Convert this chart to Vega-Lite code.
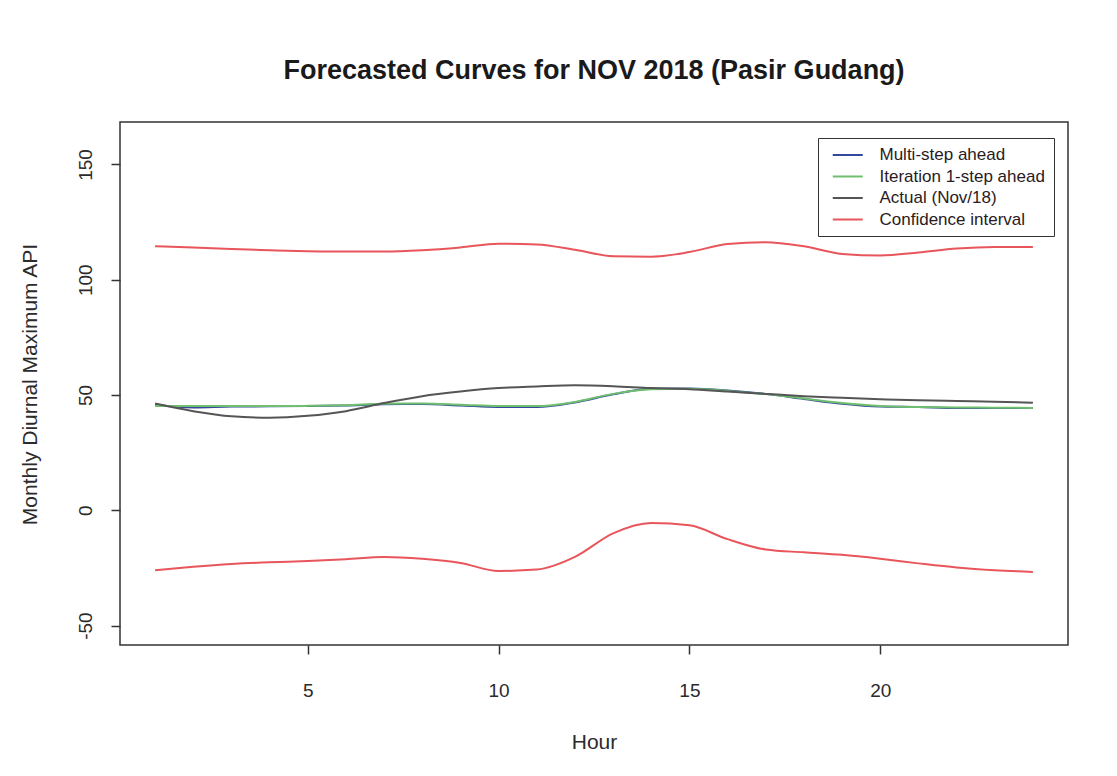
{
  "$schema": "https://vega.github.io/schema/vega-lite/v6.json",
  "width": 948,
  "height": 523,
  "autosize": {"type": "none"},
  "padding": {"left": 120, "top": 122, "right": 49, "bottom": 131},
  "background": "white",
  "title": {
    "text": "Forecasted Curves for NOV 2018 (Pasir Gudang)",
    "font": "Liberation Sans",
    "fontSize": 27,
    "fontWeight": "bold",
    "color": "#1a1a1a",
    "anchor": "middle",
    "frame": "group",
    "baseline": "alphabetic",
    "offset": 16
  },
  "data": {
    "values": [
      {"h":1,"v":45.8,"s":"Multi-step ahead","g":"m"},{"h":2,"v":44.6,"s":"Multi-step ahead","g":"m"},{"h":3,"v":45.0,"s":"Multi-step ahead","g":"m"},{"h":4,"v":45.1,"s":"Multi-step ahead","g":"m"},{"h":5,"v":45.2,"s":"Multi-step ahead","g":"m"},{"h":6,"v":45.5,"s":"Multi-step ahead","g":"m"},{"h":7,"v":46.0,"s":"Multi-step ahead","g":"m"},{"h":8,"v":46.1,"s":"Multi-step ahead","g":"m"},{"h":9,"v":45.5,"s":"Multi-step ahead","g":"m"},{"h":10,"v":44.8,"s":"Multi-step ahead","g":"m"},{"h":11,"v":44.8,"s":"Multi-step ahead","g":"m"},{"h":12,"v":46.8,"s":"Multi-step ahead","g":"m"},{"h":13,"v":50.3,"s":"Multi-step ahead","g":"m"},{"h":14,"v":52.7,"s":"Multi-step ahead","g":"m"},{"h":15,"v":52.8,"s":"Multi-step ahead","g":"m"},{"h":16,"v":52.0,"s":"Multi-step ahead","g":"m"},{"h":17,"v":50.5,"s":"Multi-step ahead","g":"m"},{"h":18,"v":48.3,"s":"Multi-step ahead","g":"m"},{"h":19,"v":46.2,"s":"Multi-step ahead","g":"m"},{"h":20,"v":45.0,"s":"Multi-step ahead","g":"m"},{"h":21,"v":44.8,"s":"Multi-step ahead","g":"m"},{"h":22,"v":44.4,"s":"Multi-step ahead","g":"m"},{"h":23,"v":44.4,"s":"Multi-step ahead","g":"m"},{"h":24,"v":44.4,"s":"Multi-step ahead","g":"m"},

      {"h":1,"v":45.2,"s":"Iteration 1-step ahead","g":"i"},{"h":2,"v":45.2,"s":"Iteration 1-step ahead","g":"i"},{"h":3,"v":45.2,"s":"Iteration 1-step ahead","g":"i"},{"h":4,"v":45.2,"s":"Iteration 1-step ahead","g":"i"},{"h":5,"v":45.3,"s":"Iteration 1-step ahead","g":"i"},{"h":6,"v":45.6,"s":"Iteration 1-step ahead","g":"i"},{"h":7,"v":46.2,"s":"Iteration 1-step ahead","g":"i"},{"h":8,"v":46.3,"s":"Iteration 1-step ahead","g":"i"},{"h":9,"v":45.8,"s":"Iteration 1-step ahead","g":"i"},{"h":10,"v":45.2,"s":"Iteration 1-step ahead","g":"i"},{"h":11,"v":45.2,"s":"Iteration 1-step ahead","g":"i"},{"h":12,"v":47.0,"s":"Iteration 1-step ahead","g":"i"},{"h":13,"v":50.5,"s":"Iteration 1-step ahead","g":"i"},{"h":14,"v":52.5,"s":"Iteration 1-step ahead","g":"i"},{"h":15,"v":52.7,"s":"Iteration 1-step ahead","g":"i"},{"h":16,"v":51.8,"s":"Iteration 1-step ahead","g":"i"},{"h":17,"v":50.4,"s":"Iteration 1-step ahead","g":"i"},{"h":18,"v":48.5,"s":"Iteration 1-step ahead","g":"i"},{"h":19,"v":46.5,"s":"Iteration 1-step ahead","g":"i"},{"h":20,"v":45.2,"s":"Iteration 1-step ahead","g":"i"},{"h":21,"v":44.8,"s":"Iteration 1-step ahead","g":"i"},{"h":22,"v":44.6,"s":"Iteration 1-step ahead","g":"i"},{"h":23,"v":44.5,"s":"Iteration 1-step ahead","g":"i"},{"h":24,"v":44.4,"s":"Iteration 1-step ahead","g":"i"},

      {"h":1,"v":46.3,"s":"Actual (Nov/18)","g":"a"},{"h":2,"v":43.0,"s":"Actual (Nov/18)","g":"a"},{"h":3,"v":40.8,"s":"Actual (Nov/18)","g":"a"},{"h":4,"v":40.2,"s":"Actual (Nov/18)","g":"a"},{"h":5,"v":41.0,"s":"Actual (Nov/18)","g":"a"},{"h":6,"v":43.0,"s":"Actual (Nov/18)","g":"a"},{"h":7,"v":46.5,"s":"Actual (Nov/18)","g":"a"},{"h":8,"v":49.5,"s":"Actual (Nov/18)","g":"a"},{"h":9,"v":51.5,"s":"Actual (Nov/18)","g":"a"},{"h":10,"v":53.0,"s":"Actual (Nov/18)","g":"a"},{"h":11,"v":53.7,"s":"Actual (Nov/18)","g":"a"},{"h":12,"v":54.2,"s":"Actual (Nov/18)","g":"a"},{"h":13,"v":53.8,"s":"Actual (Nov/18)","g":"a"},{"h":14,"v":53.0,"s":"Actual (Nov/18)","g":"a"},{"h":15,"v":52.5,"s":"Actual (Nov/18)","g":"a"},{"h":16,"v":51.5,"s":"Actual (Nov/18)","g":"a"},{"h":17,"v":50.5,"s":"Actual (Nov/18)","g":"a"},{"h":18,"v":49.5,"s":"Actual (Nov/18)","g":"a"},{"h":19,"v":48.8,"s":"Actual (Nov/18)","g":"a"},{"h":20,"v":48.2,"s":"Actual (Nov/18)","g":"a"},{"h":21,"v":47.7,"s":"Actual (Nov/18)","g":"a"},{"h":22,"v":47.4,"s":"Actual (Nov/18)","g":"a"},{"h":23,"v":47.1,"s":"Actual (Nov/18)","g":"a"},{"h":24,"v":46.7,"s":"Actual (Nov/18)","g":"a"},

      {"h":1,"v":114.5,"s":"Confidence interval","g":"u"},{"h":2,"v":114.0,"s":"Confidence interval","g":"u"},{"h":3,"v":113.3,"s":"Confidence interval","g":"u"},{"h":4,"v":112.8,"s":"Confidence interval","g":"u"},{"h":5,"v":112.4,"s":"Confidence interval","g":"u"},{"h":6,"v":112.2,"s":"Confidence interval","g":"u"},{"h":7,"v":112.2,"s":"Confidence interval","g":"u"},{"h":8,"v":112.8,"s":"Confidence interval","g":"u"},{"h":9,"v":114.0,"s":"Confidence interval","g":"u"},{"h":10,"v":115.6,"s":"Confidence interval","g":"u"},{"h":11,"v":115.3,"s":"Confidence interval","g":"u"},{"h":12,"v":113.0,"s":"Confidence interval","g":"u"},{"h":13,"v":110.2,"s":"Confidence interval","g":"u"},{"h":14,"v":110.0,"s":"Confidence interval","g":"u"},{"h":15,"v":112.0,"s":"Confidence interval","g":"u"},{"h":16,"v":115.5,"s":"Confidence interval","g":"u"},{"h":17,"v":116.3,"s":"Confidence interval","g":"u"},{"h":18,"v":114.5,"s":"Confidence interval","g":"u"},{"h":19,"v":111.2,"s":"Confidence interval","g":"u"},{"h":20,"v":110.5,"s":"Confidence interval","g":"u"},{"h":21,"v":111.8,"s":"Confidence interval","g":"u"},{"h":22,"v":113.5,"s":"Confidence interval","g":"u"},{"h":23,"v":114.2,"s":"Confidence interval","g":"u"},{"h":24,"v":114.2,"s":"Confidence interval","g":"u"},

      {"h":1,"v":-26.0,"s":"Confidence interval","g":"l"},{"h":2,"v":-24.5,"s":"Confidence interval","g":"l"},{"h":3,"v":-23.3,"s":"Confidence interval","g":"l"},{"h":4,"v":-22.5,"s":"Confidence interval","g":"l"},{"h":5,"v":-22.0,"s":"Confidence interval","g":"l"},{"h":6,"v":-21.2,"s":"Confidence interval","g":"l"},{"h":7,"v":-20.2,"s":"Confidence interval","g":"l"},{"h":8,"v":-21.0,"s":"Confidence interval","g":"l"},{"h":9,"v":-22.8,"s":"Confidence interval","g":"l"},{"h":10,"v":-26.3,"s":"Confidence interval","g":"l"},{"h":11,"v":-25.7,"s":"Confidence interval","g":"l"},{"h":12,"v":-20.2,"s":"Confidence interval","g":"l"},{"h":13,"v":-10.0,"s":"Confidence interval","g":"l"},{"h":14,"v":-5.5,"s":"Confidence interval","g":"l"},{"h":15,"v":-6.5,"s":"Confidence interval","g":"l"},{"h":16,"v":-12.5,"s":"Confidence interval","g":"l"},{"h":17,"v":-17.0,"s":"Confidence interval","g":"l"},{"h":18,"v":-18.2,"s":"Confidence interval","g":"l"},{"h":19,"v":-19.3,"s":"Confidence interval","g":"l"},{"h":20,"v":-21.0,"s":"Confidence interval","g":"l"},{"h":21,"v":-23.0,"s":"Confidence interval","g":"l"},{"h":22,"v":-24.8,"s":"Confidence interval","g":"l"},{"h":23,"v":-26.0,"s":"Confidence interval","g":"l"},{"h":24,"v":-26.7,"s":"Confidence interval","g":"l"}
    ]
  },
  "mark": {"type": "line", "strokeWidth": 2, "interpolate": "monotone"},
  "encoding": {
    "x": {
      "field": "h", "type": "quantitative",
      "scale": {"domain": [0.08, 24.92], "nice": false, "zero": false},
      "axis": {
        "title": "Hour",
        "values": [5, 10, 15, 20],
        "grid": false, "domain": false,
        "tickSize": 9, "tickColor": "#333", "tickWidth": 1.5,
        "labelPadding": 27, "labelFontSize": 19, "labelFont": "Liberation Sans", "labelColor": "#2b2b2b",
        "titleFont": "Liberation Sans", "titleFontSize": 21, "titleFontWeight": "normal", "titleColor": "#2b2b2b",
        "titleX": 474, "titleY": 97, "titleBaseline": "middle", "titleAlign": "center"
      }
    },
    "y": {
      "field": "v", "type": "quantitative",
      "scale": {"domain": [-58.4, 168.4], "nice": false, "zero": false},
      "axis": {
        "title": "Monthly Diurnal Maximum API",
        "values": [-50, 0, 50, 100, 150],
        "labelExpr": "replace(datum.label, '\u2212', '-')",
        "grid": false, "domain": false,
        "tickSize": 9, "tickColor": "#333", "tickWidth": 1.5,
        "labelAngle": -90, "labelAlign": "center", "labelBaseline": "middle",
        "labelPadding": 26, "labelFontSize": 19, "labelFont": "Liberation Sans", "labelColor": "#2b2b2b",
        "titleFont": "Liberation Sans", "titleFontSize": 21, "titleFontWeight": "normal", "titleColor": "#2b2b2b",
        "titleX": -90, "titleY": 262, "titleBaseline": "middle", "titleAlign": "center", "titleAngle": -90
      }
    },
    "color": {
      "field": "s", "type": "nominal",
      "scale": {
        "domain": ["Multi-step ahead", "Iteration 1-step ahead", "Actual (Nov/18)", "Confidence interval"],
        "range": ["#34479e", "#6fbf6f", "#555555", "#e8555a"]
      },
      "legend": {
        "title": null,
        "orient": "none",
        "legendX": 698,
        "legendY": 16,
        "strokeColor": "#333",
        "fillColor": "white",
        "padding": 8.5,
        "symbolType": "M-0.3,0H3.7",
        "symbolSize": 225,
        "symbolStrokeWidth": 2,
        "labelFont": "Liberation Sans",
        "labelFontSize": 17,
        "labelColor": "#2a1a22",
        "labelOffset": 36,
        "labelLimit": 400,
        "rowPadding": 3.5
      }
    },
    "detail": {"field": "g", "type": "nominal"}
  },
  "config": {
    "view": {"stroke": "#333", "strokeWidth": 1.5},
    "font": "Liberation Sans"
  }
}
